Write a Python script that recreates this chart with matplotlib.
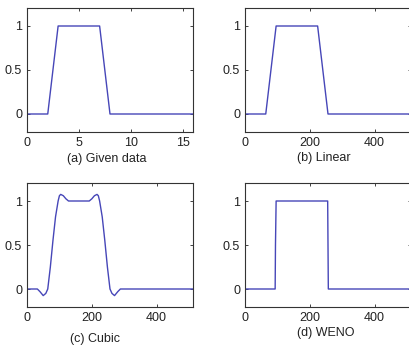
import matplotlib.pyplot as plt

plt.rcParams['font.family'] = ['Liberation Sans', 'DejaVu Sans']
plt.rcParams['font.size'] = 9

# (a) given data on integer grid 0..16
given_x = list(range(17))
given_y = [0, 0, 0, 1, 1, 1, 1, 1, 0, 0, 0, 0, 0, 0, 0, 0, 0]

# (b) linear interpolation, breakpoints on 0..512 grid
linear_x = [0, 64, 96, 224, 256, 512]
linear_y = [0, 0, 1, 1, 0, 0]

# (c) cubic interpolation
cubic_x = [0, 32, 40, 50, 58, 64, 72, 80, 88, 96, 100, 104, 112, 120, 128,
           192, 200, 208, 216, 220, 224, 232, 240, 248, 256, 262, 270, 280, 288, 512]
cubic_y = [0, 0, -0.03, -0.075, -0.05, 0, 0.25, 0.55, 0.82, 1.0, 1.06, 1.075, 1.06, 1.025, 1.0,
           1.0, 1.025, 1.06, 1.075, 1.06, 1.0, 0.82, 0.55, 0.25, 0, -0.05, -0.075, -0.03, 0, 0]

# (d) WENO
weno_x = [0, 93, 94, 96, 255, 256, 257, 512]
weno_y = [0, 0, 0.5, 1, 1, 0.5, 0, 0]

line_color = '#4646b8'
W, H = 410, 345

fig = plt.figure(figsize=(4.1, 3.45), dpi=100)

panels = [
    (27, 8.4, 166, given_x, given_y, (0, 16), [0, 5, 10, 15], '(a) Given data', (107, 159)),
    (245, 8.4, 166, linear_x, linear_y, (0, 512), [0, 200, 400], '(b) Linear', (324, 158)),
    (27, 183.4, 166, cubic_x, cubic_y, (0, 512), [0, 200, 400], '(c) Cubic', (95, 339)),
    (245, 183.4, 166, weno_x, weno_y, (0, 512), [0, 200, 400], '(d) WENO', (326, 333)),
]

for left, top, width, xs, ys, xlim, xticks, label, (lx, ly) in panels:
    h = 123.2
    ax = fig.add_axes([left / W, 1 - (top + h) / H, width / W, h / H])
    ax.plot(xs, ys, color=line_color, lw=1.0)
    ax.set_xlim(*xlim)
    ax.set_ylim(-0.2, 1.2)
    ax.set_xticks(xticks)
    ax.set_yticks([0, 0.5, 1])
    ax.set_yticklabels(['0', '0.5', '1'])
    ax.tick_params(direction='in', length=2.5, width=0.6, top=True, right=True,
                   colors='#222222', labelsize=9)
    ax.tick_params(axis='x', pad=4)
    ax.tick_params(axis='y', pad=3.5)
    for s in ax.spines.values():
        s.set_color('#333333')
        s.set_linewidth(0.8)
    fig.text(lx / W, 1 - ly / H, label, ha='center', va='center', fontsize=9, color='#222222')

fig.savefig('out.png', dpi=100)
